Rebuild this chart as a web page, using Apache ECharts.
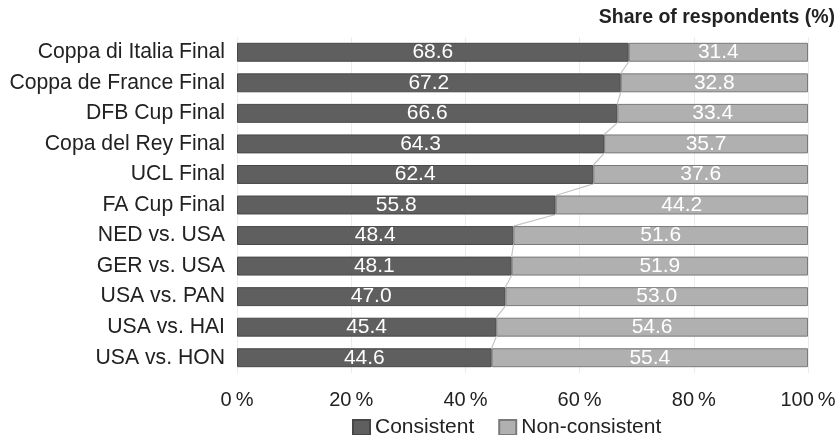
<!DOCTYPE html>
<html>
<head>
<meta charset="utf-8">
<script src="https://cdn.jsdelivr.net/npm/echarts@6/dist/echarts.min.js"></script>
<style>
  html, body { margin: 0; padding: 0; background: #fff; }
  #chart { width: 839px; height: 435px; }
</style>
</head>
<body>
<div id="chart"></div>
<script>
// Matches, top to bottom
const categories = [
  'Coppa di Italia Final', 'Coppa de France Final', 'DFB Cup Final',
  'Copa del Rey Final', 'UCL Final', 'FA Cup Final', 'NED vs. USA',
  'GER vs. USA', 'USA vs. PAN', 'USA vs. HAI', 'USA vs. HON'
];
// Share of respondents (%)
const consistent    = [68.6, 67.2, 66.6, 64.3, 62.4, 55.8, 48.4, 48.1, 47.0, 45.4, 44.6];
const nonConsistent = [31.4, 32.8, 33.4, 35.7, 37.6, 44.2, 51.6, 51.9, 53.0, 54.6, 55.4];
const xTicks = [0, 20, 40, 60, 80, 100];

const FONT = '"Liberation Sans", Arial, sans-serif';
const BAR_FRACTION = 0.62;

// Series lines joining the Consistent/Non-consistent boundary of neighbouring bars
const connectors = [];
for (let i = 0; i < consistent.length - 1; i++) {
  connectors.push([consistent[i], i, consistent[i + 1], i + 1]);
}

const chart = echarts.init(document.getElementById('chart'), null, { renderer: 'canvas' });

const labelStyle = {
  show: true,
  position: 'inside',
  color: '#fff',
  fontSize: 21,
  fontFamily: FONT,
  formatter: p => p.value.toFixed(1)
};

chart.setOption({
  animation: false,
  title: {
    text: 'Share of respondents (%)',
    right: -1,
    top: 3,
    textStyle: { fontFamily: FONT, fontSize: 19.5, fontWeight: 'bold', color: '#222' }
  },
  legend: {
    left: 347,
    top: 412,
    itemGap: 24,
    itemWidth: 17,
    itemHeight: 15,
    icon: 'rect',
    textStyle: { fontFamily: FONT, fontSize: 21, color: '#222' },
    data: ['Consistent', 'Non-consistent']
  },
  grid: { left: 237, right: 31, top: 37, bottom: 62, containLabel: false },
  xAxis: {
    type: 'value',
    min: xTicks[0],
    max: xTicks[xTicks.length - 1],
    interval: 20,
    axisLine: { show: false },
    axisTick: { show: false },
    splitLine: { show: true, lineStyle: { color: '#ececec', width: 1 } },
    axisLabel: {
      margin: 17,
      fontFamily: FONT,
      fontSize: 20,
      color: '#222',
      formatter: v => v + '\u2009%'
    }
  },
  yAxis: {
    type: 'category',
    data: categories,
    inverse: true,
    axisLine: { show: false },
    axisTick: { show: false },
    axisLabel: { margin: 12, fontFamily: FONT, fontSize: 21.2, color: '#222' }
  },
  series: [
    {
      name: 'Consistent',
      type: 'bar',
      stack: 'total',
      barCategoryGap: '38%',
      data: consistent,
      itemStyle: { color: '#5f5f5f', borderColor: '#474747', borderWidth: 1 },
      label: labelStyle
    },
    {
      name: 'Non-consistent',
      type: 'bar',
      stack: 'total',
      data: nonConsistent,
      itemStyle: { color: '#b0b0b0', borderColor: '#7a7a7a', borderWidth: 1 },
      label: labelStyle
    },
    {
      name: 'connectors',
      type: 'custom',
      silent: true,
      z: 1,
      encode: { x: [0, 2], y: [1, 3] },
      data: connectors,
      renderItem: function (params, api) {
        const half = api.size([0, 1])[1] * BAR_FRACTION / 2;
        const a = api.coord([api.value(0), api.value(1)]);
        const b = api.coord([api.value(2), api.value(3)]);
        return {
          type: 'line',
          shape: { x1: a[0], y1: a[1] + half, x2: b[0], y2: b[1] - half },
          style: { stroke: '#c4c4c4', lineWidth: 1.2 }
        };
      }
    }
  ]
});
</script>
</body>
</html>
